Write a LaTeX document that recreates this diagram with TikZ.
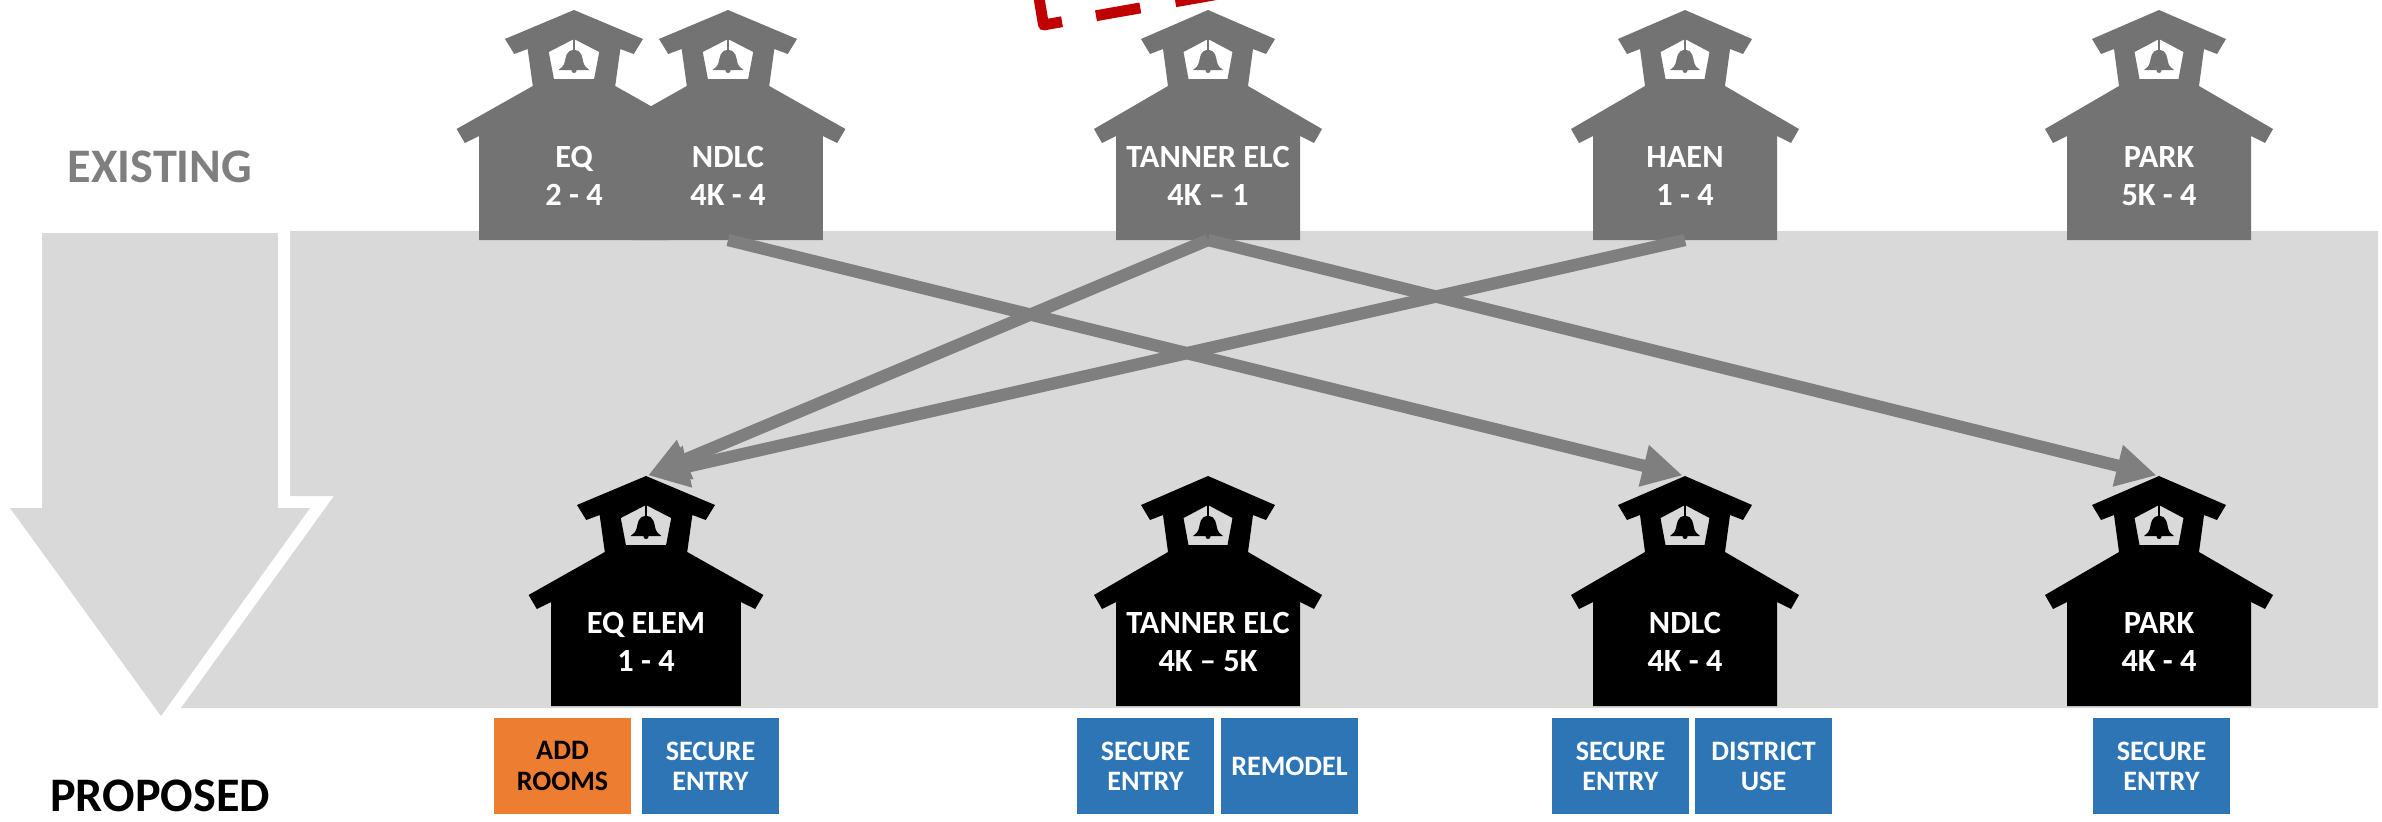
\documentclass[tikz,border=0pt]{standalone}
\usepackage{fontspec}
\setmainfont{Carlito}
\usetikzlibrary{arrows.meta}
\definecolor{oldgray}{HTML}{737373}
\definecolor{bandgray}{HTML}{D9D9D9}
\definecolor{linkgray}{HTML}{7F7F7F}
\definecolor{addorange}{HTML}{ED7D31}
\definecolor{workblue}{HTML}{2E75B6}
\definecolor{dashred}{HTML}{C00000}
\tikzset{
	houselabel/.style={text=white,align=center,inner sep=0pt,font=\fontsize{9.2}{10.9}\selectfont\bfseries},
	workbox/.style={fill=workblue,text=white,align=center,inner sep=0pt,minimum width=1.37cm,minimum height=.96cm,font=\fontsize{8}{8.6}\selectfont\bfseries},
	movelink/.style={draw=linkgray,line width=3.5pt,-{Triangle[length=.4cm,width=.4cm]},shorten >=.7pt},
	rowlabel/.style={inner sep=0pt,font=\fontsize{13.7}{15}\selectfont\bfseries}
}
% name, apex x, apex y, colour, two lines of text; the option stretches the house
\newcommand{\schoolhouse}[7][1]{
	\begin{scope}[shift={(#3,#4)},xscale=#1]
		\fill[#5,even odd rule] (0,0) -- (67,29) -- (58,44) -- (45,39) -- (40,76) -- (114,119) -- (106,133) -- (92,126) -- (92,230) -- (-92,230) -- (-92,126) -- (-106,133) -- (-114,119) -- (-40,76) -- (-45,39) -- (-58,44) -- (-67,29) -- cycle
			(0,29) -- (24.5,42) -- (19.5,69) -- (-19.5,69) -- (-24.5,42) -- cycle;
		\fill[#5] (-.8,29) rectangle (.8,41);
		\fill[#5] (0,40) .. controls (-8,40) and (-8,48) .. (-9,52) .. controls (-10,56) and (-12,58) .. (-15,60) -- (15,60) .. controls (12,58) and (10,56) .. (9,52) .. controls (8,48) and (8,40) .. (0,40) -- cycle;
		\fill[#5] (0,60.5) circle [radius=2.5];
		\coordinate (#2-top) at (0,0);
		\coordinate (#2-base) at (0,230);
		\node[houselabel] (#2) at (0,166) {#6\\#7};
	\end{scope}
}

\begin{document}
\begin{tikzpicture}[x=0.01cm,y=-0.01cm]
	\useasboundingbox (0,0) rectangle (2382,821);
	\fill[white] (0,0) rectangle (2382,821);

	\begin{scope}
		\clip (0,0) rectangle (2382,821);
		\draw[dashred,line width=3.1pt,line join=round,dash pattern=on 14pt off 9.8pt on 12.8pt off 10.1pt on 12.8pt off 10.1pt] (1038.5,-5) -- (1043.5,25) -- (1225,-7);
	\end{scope}

	\fill[bandgray] (290,231) -- (2378,231) -- (2378,708) -- (181,708) -- (334,496) -- (290,496) -- cycle;
	\fill[bandgray] (42,233) -- (278,233) -- (278,508) -- (310,508) -- (161,716) -- (10,508) -- (42,508) -- cycle;

	\node[rowlabel,text=linkgray] (existing) at (160,167) {EXISTING};
	\node[rowlabel] (proposed) at (160,796) {PROPOSED};

	\schoolhouse[1.03]{eqold}{574}{10}{oldgray}{EQ}{2 - 4}
	\schoolhouse[1.03]{ndlcold}{728}{10}{oldgray}{NDLC}{4K - 4}
	\schoolhouse{tannerold}{1208}{10}{oldgray}{TANNER ELC}{4K – 1}
	\schoolhouse{haenold}{1685}{10}{oldgray}{HAEN}{1 - 4}
	\schoolhouse{parkold}{2159}{10}{oldgray}{PARK}{5K - 4}

	\schoolhouse[1.03]{eqnew}{646}{476}{black}{EQ ELEM}{1 - 4}
	\schoolhouse{tannernew}{1208}{476}{black}{TANNER ELC}{4K – 5K}
	\schoolhouse{ndlcnew}{1685}{476}{black}{NDLC}{4K - 4}
	\schoolhouse{parknew}{2159}{476}{black}{PARK}{4K - 4}

	\draw[movelink] (ndlcold-base) -- (ndlcnew-top);
	\draw[movelink] (tannerold-base) -- (eqnew-top);
	\draw[movelink] (tannerold-base) -- (parknew-top);
	\draw[movelink] (haenold-base) -- (eqnew-top);

	\node[workbox,fill=addorange,text=black] (eqrooms) at (562.5,766) {ADD\\ROOMS};
	\node[workbox] (eqentry) at (710.5,766) {SECURE\\ENTRY};
	\node[workbox] (tannerentry) at (1145.5,766) {SECURE\\ENTRY};
	\node[workbox] (tannerremodel) at (1289.5,766) {REMODEL};
	\node[workbox] (ndlcentry) at (1620.5,766) {SECURE\\ENTRY};
	\node[workbox] (ndlcuse) at (1763.5,766) {DISTRICT\\USE};
	\node[workbox] (parkentry) at (2161.5,766) {SECURE\\ENTRY};
\end{tikzpicture}
\end{document}
